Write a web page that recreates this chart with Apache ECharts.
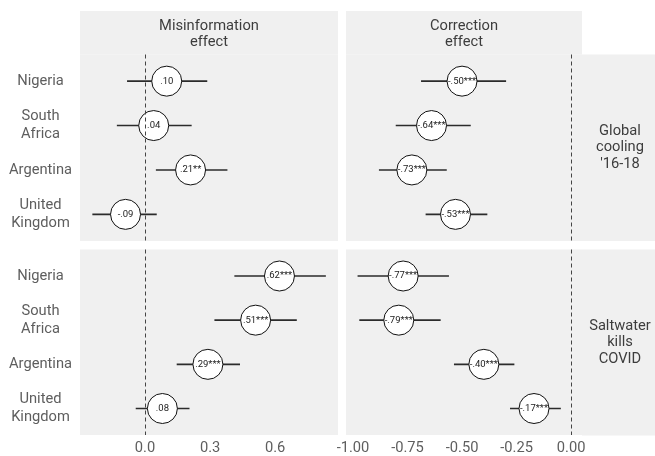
<!DOCTYPE html>
<html>
<head>
<meta charset="utf-8">
<script src="https://cdn.jsdelivr.net/npm/echarts@6/dist/echarts.min.js"></script>
<style>html,body{margin:0;padding:0;background:#fff}#c{width:655px;height:456px}</style>
</head>
<body>
<div id="c"></div>
<script>
// Categories (top to bottom)
const countries = ['Nigeria', 'South\nAfrica', 'Argentina', 'United\nKingdom'];
const columnTitles = ['Misinformation\neffect', 'Correction\neffect'];
const rowTitles = ["Global\ncooling\n'16-18", 'Saltwater\nkills\nCOVID'];

// Global cooling - misinformation effect
const misGlobalEst = [0.10, 0.04, 0.21, -0.09];
const misGlobalLo  = [-0.083, -0.13, 0.05, -0.243];
const misGlobalHi  = [0.287, 0.215, 0.38, 0.054];
const misGlobalLab = ['.10', '.04', '.21**', '-.09'];

// Global cooling - correction effect
const corGlobalEst = [-0.50, -0.64, -0.73, -0.53];
const corGlobalLo  = [-0.688, -0.804, -0.881, -0.667];
const corGlobalHi  = [-0.298, -0.46, -0.57, -0.384];
const corGlobalLab = ['-.50***', '-.64***', '-.73***', '-.53***'];

// Saltwater - misinformation effect
const misSaltEst = [0.62, 0.51, 0.29, 0.08];
const misSaltLo  = [0.412, 0.32, 0.146, -0.043];
const misSaltHi  = [0.834, 0.70, 0.438, 0.205];
const misSaltLab = ['.62***', '.51***', '.29***', '.08'];

// Saltwater - correction effect
const corSaltEst = [-0.77, -0.79, -0.40, -0.17];
const corSaltLo  = [-0.979, -0.971, -0.537, -0.28];
const corSaltHi  = [-0.56, -0.598, -0.26, -0.047];
const corSaltLab = ['-.77***', '-.79***', '-.40***', '-.17***'];

// Tick labels
const misTicks = [0, 0.3, 0.6];
const corTicks = [-1, -0.75, -0.5, -0.25, 0];

const FONT = 'Roboto';
const AXIS_COLOR = '#5e5e5e';
const STRIP_COLOR = '#3d3d3d';
const PANEL_BG = '#f0f0f0';
const FS = 14.7;

const panels = [
  {est: misGlobalEst, lo: misGlobalLo, hi: misGlobalHi, lab: misGlobalLab, col: 0, row: 0},
  {est: corGlobalEst, lo: corGlobalLo, hi: corGlobalHi, lab: corGlobalLab, col: 1, row: 0},
  {est: misSaltEst, lo: misSaltLo, hi: misSaltHi, lab: misSaltLab, col: 0, row: 1},
  {est: corSaltEst, lo: corSaltLo, hi: corSaltHi, lab: corSaltLab, col: 1, row: 1}
];

const colGeom = [{left: 80, width: 258, min: -0.30, max: 0.89, ticks: misTicks, fmt: v => v.toFixed(1)},
                 {left: 346, width: 236, min: -1.032, max: 0.05, ticks: corTicks, fmt: v => v.toFixed(2)}];
const rowGeom = [{top: 54.5, height: 186.5}, {top: 249.5, height: 186}];

const grids = [], xAxes = [], yAxes = [], series = [];
panels.forEach((p, i) => {
  const cg = colGeom[p.col], rg = rowGeom[p.row];
  grids.push({left: cg.left, width: cg.width, top: rg.top, height: rg.height, show: true,
    backgroundColor: PANEL_BG, borderWidth: 0, containLabel: false});
  xAxes.push({type: 'value', gridIndex: i, min: cg.min, max: cg.max,
    axisLine: {show: false}, axisTick: {show: false}, splitLine: {show: false},
    axisLabel: {show: p.row === 1, customValues: cg.ticks, formatter: v => cg.fmt(v),
      color: AXIS_COLOR, fontFamily: FONT, fontSize: FS, margin: 6}});
  yAxes.push({type: 'value', gridIndex: i, min: 0.4, max: 4.6, inverse: true,
    axisLine: {show: false}, axisTick: {show: false}, splitLine: {show: false},
    axisLabel: {show: p.col === 0, customValues: [1, 2, 3, 4],
      formatter: v => countries[Math.round(v) - 1] || '',
      color: AXIS_COLOR, fontFamily: FONT, fontSize: FS, lineHeight: 17.5,
      align: 'center', margin: 39.5}});
  series.push({
    type: 'custom', xAxisIndex: i, yAxisIndex: i, z: 2,
    data: p.est.map((e, k) => [p.lo[k], p.hi[k], k + 1]),
    encode: {x: [0, 1], y: 2},
    renderItem: (params, api) => {
      const a = api.coord([api.value(0), api.value(2)]);
      const b = api.coord([api.value(1), api.value(2)]);
      return {type: 'line', shape: {x1: a[0], y1: a[1], x2: b[0], y2: b[1]},
        style: {stroke: '#2b2b2b', lineWidth: 1.6}};
    },
    markLine: {silent: true, symbol: ['none', 'none'], label: {show: false},
      lineStyle: {type: [4, 3], color: '#444', width: 1}, data: [{xAxis: 0}], animation: false}
  });
  series.push({
    type: 'scatter', xAxisIndex: i, yAxisIndex: i, z: 3,
    data: p.est.map((e, k) => [e, k + 1]),
    symbol: 'circle', symbolSize: 30,
    itemStyle: {color: '#fff', borderColor: '#111', borderWidth: 1, opacity: 1},
    label: {show: true, position: 'inside', formatter: d => p.lab[d.dataIndex],
      color: '#222', fontFamily: FONT, fontSize: 9.5},
    emphasis: {disabled: true}
  });
});

const graphics = [];
// column strips
colGeom.forEach((cg, c) => {
  graphics.push({type: 'rect', shape: {x: cg.left, y: 11, width: cg.width, height: 43.5},
    style: {fill: PANEL_BG}, silent: true});
  graphics.push({type: 'text', x: cg.left + cg.width / 2, y: 34,
    style: {text: columnTitles[c], fill: STRIP_COLOR, font: FS + 'px ' + FONT,
      textAlign: 'center', textVerticalAlign: 'middle', lineHeight: 16}, silent: true});
});
// row strips
rowGeom.forEach((rg, r) => {
  graphics.push({type: 'rect', shape: {x: 582, y: rg.top, width: 73, height: rg.height},
    style: {fill: PANEL_BG}, silent: true});
  graphics.push({type: 'text', x: 620, y: rg.top + rg.height / 2,
    style: {text: rowTitles[r], fill: STRIP_COLOR, font: FS + 'px ' + FONT,
      textAlign: 'center', textVerticalAlign: 'middle', lineHeight: 16.5}, silent: true});
});

const chart = echarts.init(document.getElementById('c'), null, {renderer: 'canvas'});
chart.setOption({
  animation: false,
  backgroundColor: '#fff',
  grid: grids, xAxis: xAxes, yAxis: yAxes, series: series, graphic: graphics
});
</script>
</body>
</html>
